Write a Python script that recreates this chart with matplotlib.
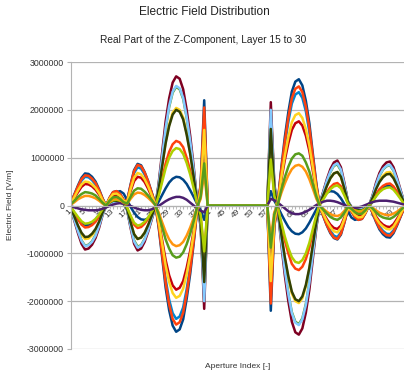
import matplotlib
matplotlib.use('Agg')
import matplotlib.pyplot as plt
import numpy as np

plt.rcParams['font.family'] = ['Liberation Sans', 'DejaVu Sans']

# values in units of 10000 V/m, aperture index 1..96 (40..57 are zero)
unit = 10000
flat = [0] * 18
aperture = list(range(1, 97))

layer15 = [-5,-16,-28,-37,-41,-41,-37,-30,-20,-8,3, 12,22,28,30,25, 12,-3,-15,-24,-29,-30,-27,-18,-6, 8,22,36,48,56,60,59,54,45,32,18,3,-10, -30] + flat + \
          [30,10,-3,-18,-32,-45,-54,-59,-60,-56,-48,-36,-22,-8, 6,18,27,30,29,24,15,3,-12, -25,-30,-28,-22,-12, -3,8,20,30,37,41,41,37,28,16,5]
layer16 = [-4,-17,-29,-40,-46,-45,-41,-34,-23,-10,0, 8,14,15,12,6, -5,-24,-40,-47,-45,-38,-28,-15,-2, 23,55,88,112,128,135,132,122,100,73,41,4,-23, -108] + flat + \
          [108,23,-4,-41,-73,-100,-122,-132,-135,-128,-112,-88,-55,-23, 2,15,28,38,45,47,40,24,5, -6,-12,-15,-14,-8, 0,10,23,34,41,45,46,40,29,17,4]
layer17 = [-6,-25,-44,-61,-70,-69,-62,-52,-36,-15,0, 7,11,12,10,5, -7,-35,-60,-70,-67,-57,-41,-22,-4, 35,84,133,169,194,204,200,184,151,110,61,6,-35, -163] + flat + \
          [163,35,-6,-61,-110,-151,-184,-200,-204,-194,-169,-133,-84,-35, 4,22,41,57,67,70,60,35,7, -5,-10,-12,-11,-7, 0,15,36,52,62,69,70,61,44,25,6]
layer18 = [-8,-30,-53,-73,-84,-82,-75,-62,-43,-18,0, 5,9,9,7,4, -9,-43,-73,-86,-83,-70,-51,-28,-4, 42,102,161,206,236,248,243,223,184,134,74,7,-42, -198] + flat + \
          [198,42,-7,-74,-134,-184,-223,-243,-248,-236,-206,-161,-102,-42, 4,28,51,70,83,86,73,43,9, -4,-7,-9,-9,-5, 0,18,43,62,75,82,84,73,53,30,8]
layer19 = [-8,-33,-58,-80,-92,-90,-82,-68,-47,-20,0, 4,8,8,6,3, -9,-47,-80,-94,-90,-76,-55,-30,-5, 46,111,176,224,257,270,265,243,200,146,81,8,-46, -216] + flat + \
          [216,46,-8,-81,-146,-200,-243,-265,-270,-257,-224,-176,-111,-46, 5,30,55,76,90,94,80,47,9, -3,-6,-8,-8,-4, 0,20,47,68,82,90,92,80,58,33,8]
layer20 = [-8,-31,-54,-74,-85,-83,-76,-63,-43,-19,0, 4,8,8,6,3, -9,-44,-75,-88,-84,-71,-52,-28,-4, 42,102,162,208,238,250,245,225,185,135,75,8,-42, -200] + flat + \
          [200,42,-8,-75,-135,-185,-225,-245,-250,-238,-208,-162,-102,-42, 4,28,52,71,84,88,75,44,9, -3,-6,-8,-8,-4, 0,19,43,63,76,83,85,74,54,31,8]
layer21 = [-6,-24,-42,-57,-66,-65,-59,-49,-34,-15,0, 6,10,10,8,4, -7,-35,-60,-70,-67,-57,-41,-22,-4, 34,82,130,166,190,200,196,180,148,108,60,6,-34, -160] + flat + \
          [160,34,-6,-60,-108,-148,-180,-196,-200,-190,-166,-130,-82,-34, 4,22,41,57,67,70,60,35,7, -4,-8,-10,-10,-6, 0,15,34,49,59,65,66,57,42,24,6]
layer22 = [-3,-14,-24,-33,-38,-37,-34,-28,-19,-8,0, 7,11,12,10,5, -4,-21,-36,-42,-40,-34,-25,-13,-2, 20,49,78,100,114,120,118,108,89,65,36,4,-20, -96] + flat + \
          [96,20,-4,-36,-65,-89,-108,-118,-120,-114,-100,-78,-49,-20, 2,13,25,34,40,42,36,21,4, -5,-10,-12,-11,-7, 0,8,19,28,34,37,38,33,24,14,3]
layer23 = [-2,-4,-6,-8,-9,-10,-10,-10,-9,-7,-4, -1,2,4,5,4, 2,-1,-4,-7,-9,-10,-10,-8,-5, -1,4,9,13,16,18,18,16,12,6,0,-6,-11, -14] + flat + \
          [14,11,6,0,-6,-12,-16,-18,-18,-16,-13,-9,-4,1, 5,8,10,10,9,7,4,1,-2, -4,-5,-4,-2,1, 4,7,9,10,10,10,9,8,6,4,2]
layer24 = [2,7,13,17,20,20,18,15,10,4,0, 8,13,14,11,6, 3,14,23,27,26,22,16,9,1, -14,-35,-55,-71,-81,-85,-83,-76,-63,-46,-26,-3,14, 68] + flat + \
          [-68,-14,3,26,46,63,76,83,85,81,71,55,35,14, -1,-7,-13,-18,-21,-22,-19,-11,-2, -6,-11,-14,-13,-8, 0,-4,-10,-15,-18,-20,-20,-17,-13,-7,-2]
layer25 = [4,16,28,39,45,44,40,33,23,10,0, 12,21,22,18,9, 6,30,51,60,58,49,35,19,3, -30,-72,-114,-146,-167,-176,-172,-158,-130,-95,-53,-5,30, 141] + flat + \
          [-141,-30,5,53,95,130,158,172,176,167,146,114,72,30, -2,-16,-29,-40,-47,-49,-42,-25,-5, -9,-18,-22,-21,-12, 0,-10,-23,-33,-40,-44,-45,-39,-28,-16,-4]
layer26 = [5,22,38,52,60,59,53,44,31,13,0, 15,27,28,22,11, 8,40,68,80,77,65,47,26,4, -40,-97,-154,-197,-225,-237,-232,-213,-175,-128,-71,-7,40, 190] + flat + \
          [-190,-40,7,71,128,175,213,232,237,225,197,154,97,40, -3,-21,-39,-53,-63,-66,-56,-33,-7, -11,-22,-28,-27,-15, 0,-13,-31,-44,-53,-59,-60,-52,-38,-22,-5]
layer27 = [6,24,42,58,67,66,60,50,34,15,0, 16,28,30,24,12, 9,44,74,87,84,70,51,28,4, -45,-108,-172,-219,-251,-264,-259,-238,-195,-143,-79,-8,45, 220] + flat + \
          [-220,-45,8,79,143,195,238,259,264,251,219,172,108,45, -4,-23,-42,-58,-68,-71,-61,-36,-7, -12,-24,-30,-28,-16, 0,-15,-34,-50,-60,-66,-67,-58,-42,-24,-6]
layer28 = [6,23,40,55,63,62,56,47,32,14,0, 16,28,30,24,12, 8,42,72,85,82,69,50,27,4, -42,-102,-162,-207,-237,-249,-244,-224,-184,-134,-75,-7,42, 205] + flat + \
          [-205,-42,7,75,134,184,224,244,249,237,207,162,102,42, -3,-22,-41,-56,-67,-70,-59,-35,-7, -12,-24,-30,-28,-16, 0,-14,-32,-47,-56,-62,-63,-55,-40,-23,-6]
layer29 = [4,18,32,44,50,49,44,37,26,11,0, 14,24,25,20,10, 7,34,58,68,65,55,40,22,3, -33,-79,-125,-160,-183,-193,-189,-174,-143,-104,-58,-6,33, 158] + flat + \
          [-158,-33,6,58,104,143,174,189,193,183,160,125,79,33, -3,-18,-33,-45,-54,-56,-47,-28,-6, -10,-20,-25,-24,-14, 0,-11,-26,-37,-44,-49,-50,-44,-32,-18,-4]
layer30 = [3,10,18,24,28,27,25,21,14,6,0, 10,17,18,14,7, 4,18,31,36,35,29,21,12,2, -19,-45,-71,-90,-104,-109,-107,-98,-81,-59,-33,-3,19, 88] + flat + \
          [-88,-19,3,33,59,81,98,107,109,104,90,71,45,19, -1,-9,-17,-24,-28,-30,-25,-15,-3, -7,-14,-18,-17,-10, 0,-6,-14,-21,-25,-27,-28,-24,-18,-10,-3]

layers = [layer15, layer16, layer17, layer18, layer19, layer20, layer21, layer22,
          layer23, layer24, layer25, layer26, layer27, layer28, layer29, layer30]
colors = ['#004586', '#ff420e', '#ffd320', '#579d1c', '#7e0021', '#83caff', '#314004', '#aecf00',
          '#4b1f6f', '#ff950e', '#c5000b', '#0084d1', '#004586', '#ff420e', '#ffd320', '#579d1c']

yticks = [-3000000, -2000000, -1000000, 0, 1000000, 2000000, 3000000]
ylabels = ['-3000000', '-2000000', '-1000000', '0', '1000000', '2000000', '3000000']
xticks = aperture[::4]
xlabels = [str(a) for a in xticks]

grey = '#b3b3b3'
txt = '#333333'

fig = plt.figure(figsize=(4.04, 3.75), dpi=100)
ax = fig.add_axes([71/404, 1 - 349/375, 333/404, 287/375])

for vals, c in zip(layers, colors):
    ax.plot(aperture, np.array(vals) * unit, color=c, lw=1.8,
            solid_joinstyle='round', solid_capstyle='round')

ax.set_xlim(1, 1 + 333/3.541)
ax.set_ylim(-3000000, 3000000)
ax.set_axisbelow(True)
ax.yaxis.grid(True, color=grey, lw=0.9)

for s in ['top', 'right']:
    ax.spines[s].set_visible(False)
ax.spines['left'].set_color(grey)
ax.spines['bottom'].set_color(grey)
ax.spines['bottom'].set_position(('data', 0))

ax.set_yticks(yticks)
ax.set_yticklabels(ylabels)
ax.set_xticks(xticks)
ax.set_xticklabels(xlabels)
ax.set_xticks(aperture, minor=True)
ax.tick_params(axis='y', length=3, color=grey, labelsize=6.3, labelcolor=txt, pad=2)
ax.tick_params(axis='x', which='both', length=2.5, color=grey, direction='out')
ax.tick_params(axis='x', labelsize=6, labelcolor=txt, pad=1)
for lab in ax.get_xticklabels():
    lab.set_rotation(45)
    lab.set_ha('right')
    lab.set_va('center')
    lab.set_rotation_mode('anchor')

fig.text(204/404, 1 - 12/375, 'Electric Field Distribution', ha='center', va='center',
         fontsize=8.6, color='#222222')
fig.text(203/404, 1 - 40/375, 'Real Part of the Z-Component, Layer 15 to 30', ha='center',
         va='center', fontsize=7.3, color='#222222')
fig.text(11/404, 1 - 205/375, 'Electric Field [V/m]', rotation=90, ha='center', va='center',
         fontsize=6, color=txt)
fig.text(238/404, 1 - 367/375, 'Aperture Index [-]', ha='center', va='center',
         fontsize=6, color=txt)

fig.savefig('out.png', dpi=100)
